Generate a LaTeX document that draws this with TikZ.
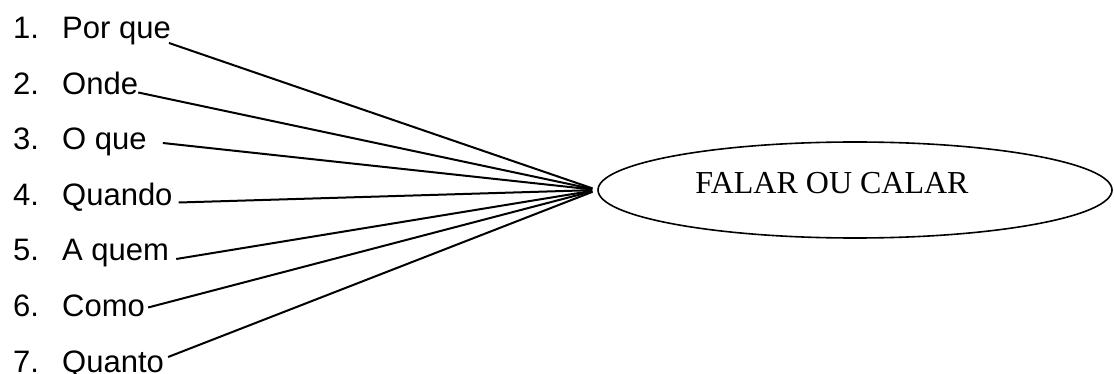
\documentclass[tikz,border=0pt]{standalone}
\usepackage{fontspec}
\setmainfont{Liberation Serif}
\newfontfamily\arialfont{Liberation Sans}
\usetikzlibrary{shapes.geometric}
\newcommand{\qlabel}[2]{\makebox[49pt][l]{#1.}#2}
\tikzset{
  questionLabel/.style={
    font=\arialfont\fontsize{31}{31}\selectfont,
    anchor=base west,
    inner sep=0pt
  },
  spokeLine/.style={line width=2pt, shorten >=5pt},
  targetEllipse/.style={
    ellipse,
    draw,
    line width=1.6pt,
    minimum width=514pt,
    minimum height=96pt,
    inner sep=0pt
  },
  targetText/.style={font=\fontsize{32}{32}\selectfont}
}
\begin{document}
\begin{tikzpicture}[x=1pt,y=-1pt]
  \useasboundingbox (0,0) rectangle (1114,374);

  \node[targetEllipse] (target) at (855,190) {};
  \node[targetText] (targetTitle) at (832,183) {FALAR OU CALAR};

  \node[questionLabel] (qPorque) at (13,39) {\qlabel{1}{Por que}};
  \node[questionLabel] (qOnde) at (13,94.5) {\qlabel{2}{Onde}};
  \node[questionLabel] (qOque) at (13,150) {\qlabel{3}{O que}};
  \node[questionLabel] (qQuando) at (13,205.5) {\qlabel{4}{Quando}};
  \node[questionLabel] (qAquem) at (13,261) {\qlabel{5}{A quem}};
  \node[questionLabel] (qComo) at (13,316.5) {\qlabel{6}{Como}};
  \node[questionLabel] (qQuanto) at (13,372) {\qlabel{7}{Quanto}};

  \draw[spokeLine] ([shift={(-2,4)}]qPorque.base east) -- (target.west);
  \draw[spokeLine] ([shift={(0,-2)}]qOnde.base east) -- (target.west);
  \draw[spokeLine] ([shift={(16,-7)}]qOque.base east) -- (target.west);
  \draw[spokeLine] ([shift={(6,-3)}]qQuando.base east) -- (target.west);
  \draw[spokeLine] ([shift={(7,-2)}]qAquem.base east) -- (target.west);
  \draw[spokeLine] ([shift={(3,-9)}]qComo.base east) -- (target.west);
  \draw[spokeLine] ([shift={(4,-15)}]qQuanto.base east) -- (target.west);
\end{tikzpicture}
\end{document}
